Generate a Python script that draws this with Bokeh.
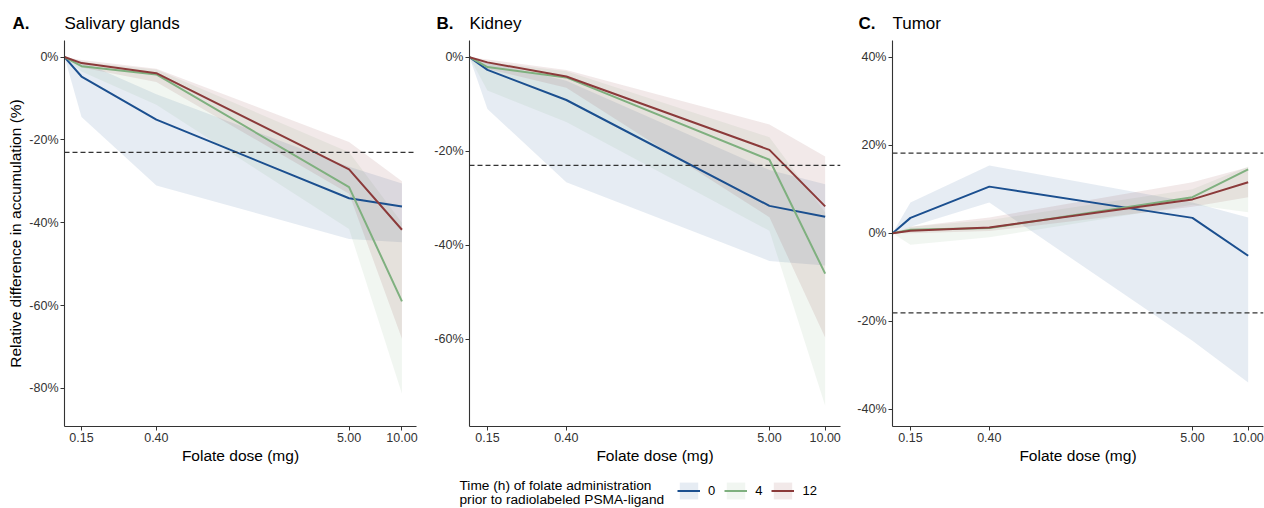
from bokeh.plotting import figure
from bokeh.layouts import row, column
from bokeh.models import (Range1d, FixedTicker, PrintfTickFormatter, Span,
                          Legend, LegendItem)
from bokeh.core.properties import value
from bokeh.embed import file_html
from bokeh.resources import INLINE

FONT = "Liberation Sans"

# ---------------- data ----------------
doses = [0.12, 0.15, 0.4, 5.0, 10.0]          # first entry = baseline (no folate)
x_ticks = [0.15, 0.4, 5.0, 10.0]
groups = ["0", "4", "12"]
colors = ["#1b4f8f", "#7fb07f", "#8b3a3a"]
panel_letters = ["A.", "B.", "C."]
panel_titles = ["Salivary glands", "Kidney", "Tumor"]
legend_title = ["Time (h) of folate administration",
                "prior to radiolabeled PSMA-ligand"]

# Salivary glands
sal_0 = [0, -4.7, -15.1, -34.1, -36.1]
sal_0_lo = [0, -14.5, -31.0, -43.9, -44.7]
sal_0_hi = [0, -1.0, -9.0, -26.5, -30.5]
sal_4 = [0, -2.2, -4.2, -31.4, -59.0]
sal_4_lo = [0, -3.5, -11.5, -41.5, -81.3]
sal_4_hi = [0, -1.2, -3.0, -23.0, -40.0]
sal_12 = [0, -1.45, -3.9, -27.1, -41.7]
sal_12_lo = [0, -2.5, -6.0, -33.0, -68.0]
sal_12_hi = [0, -0.7, -2.8, -20.5, -30.0]
sal_threshold = [-23.0]

# Kidney
kid_0 = [0, -2.7, -9.1, -31.6, -33.9]
kid_0_lo = [0, -11.0, -26.6, -43.3, -44.3]
kid_0_hi = [0, -1.0, -5.0, -24.0, -27.0]
kid_4 = [0, -2.1, -4.3, -21.8, -46.0]
kid_4_lo = [0, -7.1, -13.8, -36.9, -74.1]
kid_4_hi = [0, -1.0, -3.0, -17.0, -33.0]
kid_12 = [0, -1.1, -4.1, -19.7, -31.7]
kid_12_lo = [0, -2.5, -6.5, -34.0, -59.6]
kid_12_hi = [0, -0.5, -2.7, -14.3, -21.1]
kid_threshold = [-23.0]

# Tumor
tum_0 = [0, 3.5, 10.6, 3.5, -5.1]
tum_0_lo = [0, 1.5, 7.0, -24.4, -33.9]
tum_0_hi = [0, 7.0, 15.4, 7.0, 3.6]
tum_4 = [0, 0.8, 1.2, 8.2, 14.5]
tum_4_lo = [0, -2.6, -0.9, 6.5, 4.8]
tum_4_hi = [0, 1.5, 3.0, 10.0, 15.2]
tum_12 = [0, 0.6, 1.3, 7.7, 11.6]
tum_12_lo = [0, 0.0, 0.5, 6.0, 8.2]
tum_12_hi = [0, 1.5, 3.6, 11.6, 15.0]
tum_threshold = [18.2, -18.1]

sal_ticks = [0, -20, -40, -60, -80]
kid_ticks = [0, -20, -40, -60]
tum_ticks = [-40, -20, 0, 20, 40]

# ---------------- layout constants ----------------
W = 1264
HEADER_H = 40
FOOTER_H = 36
FRAME_H = 386
PANEL_H = 508 - HEADER_H - FOOTER_H
# (left border, frame width, right border) per panel
borders = [(64, 352, 10), (43, 371, 10), (42, 371, 1)]
letter_dx = [52, 33, 34]


def make_panel(means, lows, highs, y_range, y_ticks, thresholds, left, frame_w, right,
               ylabel=None):
    p = figure(width=left + frame_w + right, height=PANEL_H, x_axis_type="log",
               x_range=Range1d(0.12, 12.1), y_range=Range1d(*y_range),
               output_backend="svg", toolbar_location=None,
               min_border_left=left, min_border_right=right,
               min_border_top=0, min_border_bottom=PANEL_H - FRAME_H)
    p.outline_line_color = None
    p.grid.visible = False
    p.background_fill_color = "white"
    p.border_fill_color = "white"

    for lo, hi, c in zip(lows, highs, colors):
        p.varea(x=doses, y1=lo, y2=hi, fill_color=c, fill_alpha=0.11)
    for m, c in zip(means, colors):
        p.line(x=doses, y=m, line_color=c, line_width=2)

    for t in thresholds:
        p.add_layout(Span(location=t, dimension="width", line_color="#333333",
                          line_width=1.2, line_dash="5 3"))

    for ax in (p.xaxis[0], p.yaxis[0]):
        ax.axis_line_color = "#333333"
        ax.axis_line_width = 1.1
        ax.major_tick_line_color = "#333333"
        ax.major_tick_in = 0
        ax.major_tick_out = 4
        ax.minor_tick_line_color = None
        ax.major_label_text_font = FONT
        ax.major_label_text_font_size = "12.5px"
        ax.major_label_text_color = "#333333"
        ax.axis_label_text_font = FONT
        ax.axis_label_text_font_size = "15.5px"
        ax.axis_label_text_font_style = "normal"
        ax.axis_label_text_color = "black"
        ax.major_label_standoff = 2
        ax.axis_label_standoff = 2

    p.xaxis.ticker = FixedTicker(ticks=x_ticks)
    p.xaxis.formatter = PrintfTickFormatter(format="%.2f")
    p.xaxis.axis_label = "Folate dose (mg)"
    p.yaxis.ticker = FixedTicker(ticks=y_ticks)
    p.yaxis.formatter = PrintfTickFormatter(format="%d%%")
    if ylabel:
        p.yaxis.axis_label = ylabel
    return p


pA = make_panel([sal_0, sal_4, sal_12], [sal_0_lo, sal_4_lo, sal_12_lo],
                [sal_0_hi, sal_4_hi, sal_12_hi], (-89.2, 4.0), sal_ticks,
                sal_threshold, *borders[0],
                ylabel="Relative difference in accumulation (%)")
pB = make_panel([kid_0, kid_4, kid_12], [kid_0_lo, kid_4_lo, kid_12_lo],
                [kid_0_hi, kid_4_hi, kid_12_hi], (-78.5, 3.55), kid_ticks,
                kid_threshold, *borders[1])
pC = make_panel([tum_0, tum_4, tum_12], [tum_0_lo, tum_4_lo, tum_12_lo],
                [tum_0_hi, tum_4_hi, tum_12_hi], (-43.9, 43.8), tum_ticks,
                tum_threshold, *borders[2])

# ---------------- header with panel titles ----------------
frame_lefts = []
acc = 0
for l, fw, r in borders:
    frame_lefts.append(acc + l)
    acc += l + fw + r

header = figure(width=W, height=HEADER_H, x_range=Range1d(0, W),
                y_range=Range1d(HEADER_H, 0), min_border=0,
                output_backend="svg", toolbar_location=None,
                x_axis_location=None, y_axis_location=None)
header.outline_line_color = None
header.grid.visible = False
header.text(x=[fl - d for fl, d in zip(frame_lefts, letter_dx)], y=[23] * 3,
            text=panel_letters, text_font=value(FONT), text_font_size="17px",
            text_font_style="bold", text_baseline="middle", text_color="black")
header.text(x=frame_lefts, y=[23] * 3, text=panel_titles, text_font=value(FONT),
            text_font_size="17px", text_baseline="middle", text_color="black")

# ---------------- footer with legend ----------------
footer = figure(width=W, height=FOOTER_H, x_range=Range1d(0, W),
                y_range=Range1d(FOOTER_H, 0), min_border=0,
                output_backend="svg", toolbar_location=None,
                x_axis_location=None, y_axis_location=None)
footer.outline_line_color = None
footer.grid.visible = False
footer.text(x=[459, 459], y=[13, 27], text=legend_title, text_font=value(FONT),
            text_font_size="13.7px", text_baseline="middle", text_color="black")

# legend proxies: copies of the panel glyphs placed outside the footer's view
proxy_x = [-20, -10]
proxy_y = [-50, -50]
items = []
for g, c in zip(groups, colors):
    b = footer.varea(x=proxy_x, y1=proxy_y, y2=proxy_y, fill_color=c, fill_alpha=0.11)
    l = footer.line(x=proxy_x, y=proxy_y, line_color=c, line_width=2)
    items.append(LegendItem(label=g, renderers=[b, l]))
legend = Legend(items=items, orientation="horizontal", location=(677, 7),
                padding=0, margin=0, spacing=9, label_standoff=8, label_width=0,
                glyph_width=23, glyph_height=21, border_line_color=None,
                background_fill_alpha=0, label_text_font=FONT,
                label_text_font_size="13px", label_text_color="black")
footer.add_layout(legend)

layout = column(header, row(pA, pB, pC, spacing=0), footer, spacing=0)
open("out.html", "w").write(file_html(layout, INLINE))
